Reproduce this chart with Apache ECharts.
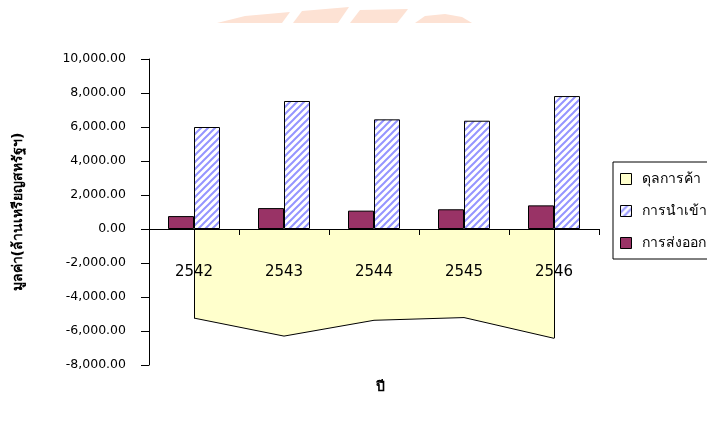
<!DOCTYPE html>
<html>
<head>
<meta charset="utf-8">
<script src="https://cdn.jsdelivr.net/npm/echarts@6/dist/echarts.min.js"></script>
<style>
html,body{margin:0;padding:0;background:#fff;}
#chart{width:707px;height:437px;}
</style>
</head>
<body>
<div id="chart"></div>
<script>
var categories = ['2542', '2543', '2544', '2545', '2546'];
var exportsData = [760, 1230, 1080, 1160, 1390];
var importsData = [6000, 7530, 6450, 6370, 7820];
var balanceData = [-5240, -6300, -5370, -5210, -6430];
var yTicks = { min: -8000, max: 10000, interval: 2000 };
var seriesNames = { balance: 'ดุลการค้า', imports: 'การนำเข้า', exports: 'การส่งออก' };

// hatch pattern for imports
var pc = document.createElement('canvas');
pc.width = 7; pc.height = 7;
var ctx = pc.getContext('2d');
ctx.fillStyle = '#ffffff';
ctx.fillRect(0, 0, 7, 7);
ctx.strokeStyle = '#9595ff';
ctx.lineWidth = 2;
ctx.beginPath();
ctx.moveTo(-1, 8); ctx.lineTo(8, -1);
ctx.moveTo(-1, 1); ctx.lineTo(1, -1);
ctx.moveTo(6, 8); ctx.lineTo(8, 6);
ctx.stroke();
var hatch = { image: pc, repeat: 'repeat' };

var font = '"DejaVu Sans", Tahoma, sans-serif';
var chart = echarts.init(document.getElementById('chart'), null, { renderer: 'canvas' });

var gridTop = 59, gridBottomPx = 365, zeroPx = 229;
var wm = '#fde2d4';
var option = {
  animation: false,
  backgroundColor: '#ffffff',
  grid: { left: 149, right: 108, top: gridTop, bottom: 437 - gridBottomPx, outerBoundsMode: 'none', containLabel: false },
  legend: {
    orient: 'vertical',
    left: 613, top: 162,
    padding: [9, 10, 8, 7],
    itemWidth: 11, itemHeight: 11,
    itemGap: 16,
    borderColor: '#000', borderWidth: 1,
    textStyle: { fontFamily: font, fontSize: 14, color: '#000', lineHeight: 16, padding: [0, 0, 0, 5] },
    data: [
      { name: seriesNames.balance, icon: 'rect', itemStyle: { color: '#FFFFCC', borderColor: '#000', borderWidth: 1 } },
      { name: seriesNames.imports, icon: 'rect', itemStyle: { color: hatch, borderColor: '#000', borderWidth: 1 } },
      { name: seriesNames.exports, icon: 'rect', itemStyle: { color: '#993366', borderColor: '#000', borderWidth: 1 } }
    ]
  },
  xAxis: [
    {
      type: 'category',
      data: categories,
      z: 10,
      boundaryGap: true,
      axisLine: { onZero: true, lineStyle: { color: '#000', width: 1 } },
      axisTick: { show: true, length: 6, lineStyle: { color: '#000' } },
      axisLabel: { show: false },
      splitLine: { show: false }
    },
    {
      type: 'category',
      data: categories,
      position: 'bottom',
      offset: -(gridBottomPx - zeroPx),
      z: 10,
      boundaryGap: true,
      name: 'ปี',
      nameLocation: 'middle',
      nameGap: 151,
      nameTextStyle: { fontFamily: font, fontSize: 14, fontWeight: 'bold', color: '#000', padding: [0, 0, 0, 12] },
      axisLine: { show: false, onZero: false },
      axisTick: { show: false },
      axisLabel: { margin: 36, fontFamily: font, fontSize: 15, color: '#000' },
      splitLine: { show: false }
    }
  ],
  yAxis: {
    type: 'value',
    min: yTicks.min, max: yTicks.max, interval: yTicks.interval,
    name: 'มูลค่า(ล้านเหรียญสหรัฐฯ)',
    nameLocation: 'middle',
    nameGap: 124,
    nameRotate: 90,
    nameTextStyle: { fontFamily: font, fontSize: 14, fontWeight: 'bold', color: '#000' },
    axisLine: { show: true, lineStyle: { color: '#000', width: 1 } },
    axisTick: { show: true, length: 8, lineStyle: { color: '#000' } },
    axisLabel: {
      margin: 23, fontFamily: font, fontSize: 12.5, color: '#000',
      formatter: function (v) { return v.toLocaleString('en-US', { minimumFractionDigits: 2, maximumFractionDigits: 2 }); }
    },
    splitLine: { show: false }
  },
  graphic: [
    { type: 'polygon', silent: true, shape: { points: [[217, 23], [245, 16], [290, 12], [282, 23]] }, style: { fill: wm } },
    { type: 'polygon', silent: true, shape: { points: [[293, 23], [302, 11], [349, 7], [338, 23]] }, style: { fill: wm } },
    { type: 'polygon', silent: true, shape: { points: [[350, 23], [360, 10], [408, 9], [405, 13], [397, 23]] }, style: { fill: wm } },
    { type: 'polygon', silent: true, shape: { points: [[415, 23], [425, 16], [445, 14], [462, 17], [472, 23]] }, style: { fill: wm } }
  ],
  series: [
    {
      name: seriesNames.balance,
      type: 'line',
      data: balanceData,
      symbol: 'none',
      lineStyle: { color: '#000', width: 1 },
      areaStyle: { color: '#FFFFCC', opacity: 1 },
      itemStyle: { color: '#FFFFCC' },
      z: 1,
      markLine: {
        silent: true,
        symbol: 'none',
        label: { show: false },
        lineStyle: { color: '#000', width: 1, type: 'solid' },
        data: [
          [{ coord: [0, 0] }, { coord: [0, balanceData[0]] }],
          [{ coord: [categories.length - 1, 0] }, { coord: [categories.length - 1, balanceData[categories.length - 1]] }]
        ]
      }
    },
    {
      name: seriesNames.exports,
      type: 'bar',
      data: exportsData,
      barWidth: 26,
      barGap: '0%',
      itemStyle: { color: '#993366', borderColor: '#000', borderWidth: 1 }
    },
    {
      name: seriesNames.imports,
      type: 'bar',
      data: importsData,
      barWidth: 26,
      barGap: '0%',
      itemStyle: { color: hatch, borderColor: '#000', borderWidth: 1 }
    }
  ]
};
chart.setOption(option);
</script>
</body>
</html>
